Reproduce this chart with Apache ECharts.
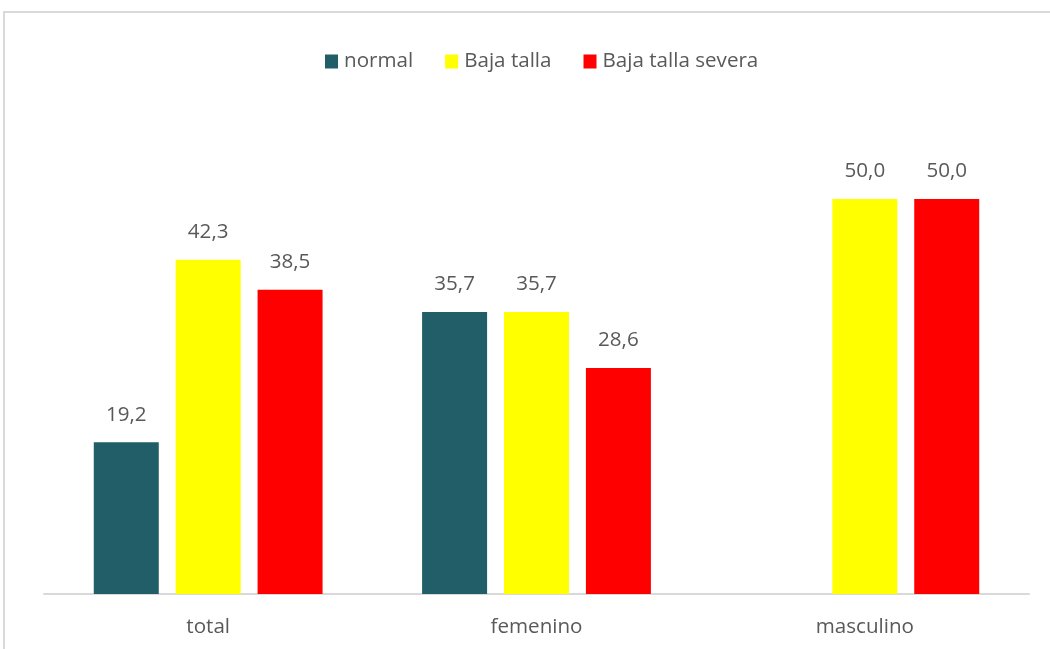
<!DOCTYPE html>
<html>
<head>
<meta charset="utf-8">
<script src="https://cdn.jsdelivr.net/npm/echarts@6/dist/echarts.min.js"></script>
<style>
html,body{margin:0;padding:0;background:#fff;}
#chart{width:1050px;height:649px;}
</style>
</head>
<body>
<div id="chart"></div>
<script>
const categories = ['total', 'femenino', 'masculino'];
const seriesNames = ['normal', 'Baja talla', 'Baja talla severa'];
const normalValues = [19.2, 35.7, 0];
const bajaTallaValues = [42.3, 35.7, 50.0];
const bajaTallaSeveraValues = [38.5, 28.6, 50.0];
const colors = ['#215E67', '#FFFF00', '#FF0000'];

const chart = echarts.init(document.getElementById('chart'));
const font = '"Open Sans", "Noto Sans", sans-serif';
const labelCfg = {
  show: true,
  position: 'top',
  distance: 17,
  color: '#595959',
  fontSize: 20.6,
  fontFamily: font,
  formatter: p => p.value === 0 ? '' : p.value.toFixed(1).replace('.', ',')
};
function mk(name, data, color) {
  return {
    name: name,
    type: 'bar',
    data: data,
    barWidth: 65,
    barGap: '26%',
    itemStyle: { color: color },
    label: labelCfg,
    emphasis: { disabled: true }
  };
}
chart.setOption({
  animation: false,
  graphic: [{
    type: 'rect',
    shape: { x: 4, y: 12, width: 1200, height: 800 },
    style: { fill: 'none', stroke: '#d9d9d9', lineWidth: 2 },
    silent: true
  }],
  legend: {
    data: seriesNames,
    top: 46,
    left: 320,
    itemWidth: 13,
    itemHeight: 14,
    itemGap: 32,
    icon: 'rect',
    textStyle: { color: '#595959', fontSize: 20.6, fontFamily: font, padding: [0, 0, 0, 1] }
  },
  grid: { left: 44, right: 21, top: 120, bottom: 55 },
  xAxis: {
    type: 'category',
    data: categories,
    axisLine: { lineStyle: { color: '#d9d9d9', width: 2 } },
    axisTick: { show: false },
    axisLabel: { color: '#595959', fontSize: 20.6, fontFamily: font, margin: 23 }
  },
  yAxis: {
    type: 'value',
    min: 0,
    max: 60,
    show: false,
    splitLine: { show: false }
  },
  series: [
    mk(seriesNames[0], normalValues, colors[0]),
    mk(seriesNames[1], bajaTallaValues, colors[1]),
    mk(seriesNames[2], bajaTallaSeveraValues, colors[2])
  ]
});
</script>
</body>
</html>
